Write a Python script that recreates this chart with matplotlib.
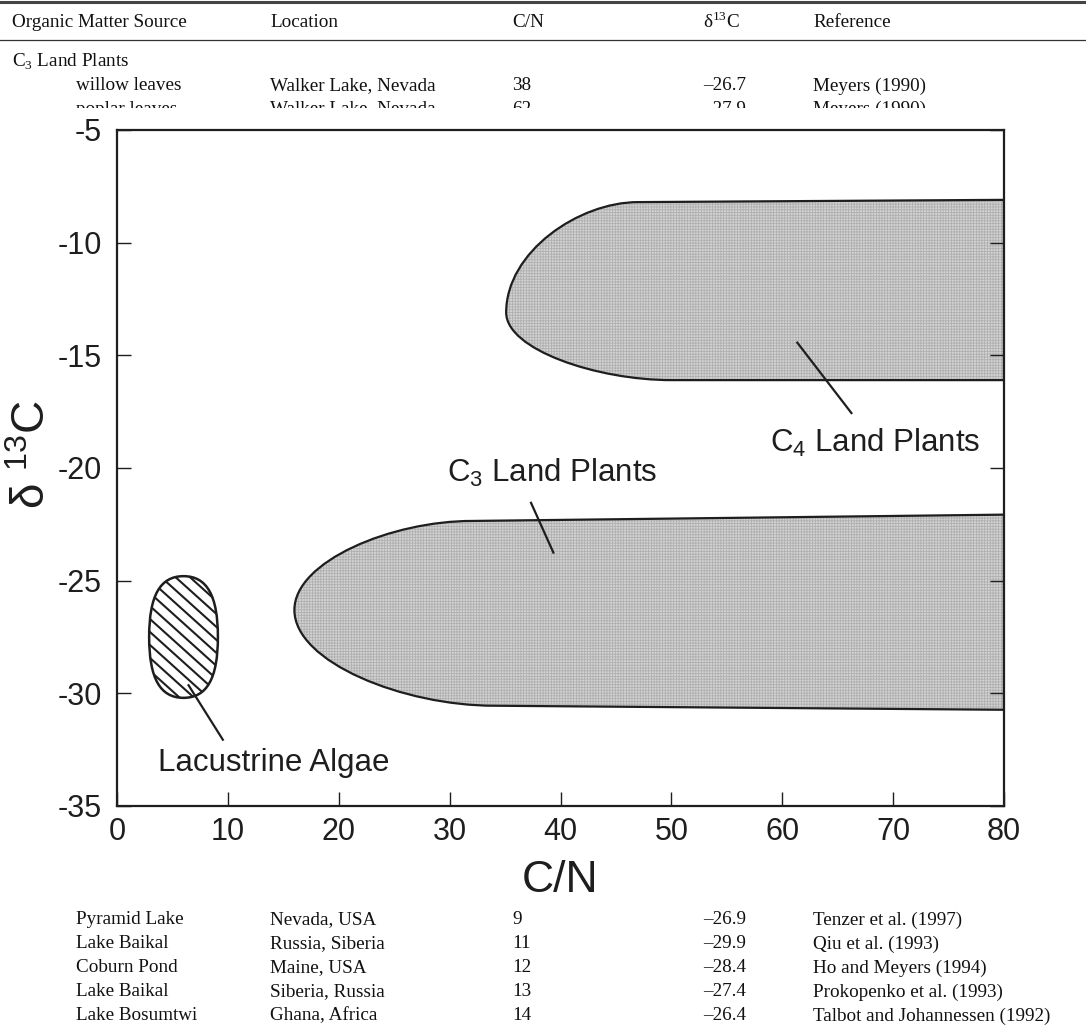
import matplotlib
matplotlib.use("Agg")
import numpy as np
import matplotlib.pyplot as plt
from matplotlib.path import Path
from matplotlib.patches import PathPatch, Rectangle

plt.rcParams['axes.unicode_minus'] = False
SANS = ['Liberation Sans', 'DejaVu Sans']
SERIF = ['Liberation Serif', 'DejaVu Serif']

# ---- table text around the figure ----
table_header = ["Organic Matter Source", "Location", "C/N", "δ$^{\\mathregular{13}}$C", "Reference"]
table_group = "C$_{\\mathregular{3}}$ Land Plants"
table_top_rows = [
    ["willow leaves", "Walker Lake, Nevada", "38", "–26.7", "Meyers (1990)"],
    ["poplar leaves", "Walker Lake, Nevada", "62", "–27.9", "Meyers (1990)"],
]
table_bottom_rows = [
    ["Pyramid Lake", "Nevada, USA", "9", "–26.9", "Tenzer et al. (1997)"],
    ["Lake Baikal", "Russia, Siberia", "11", "–29.9", "Qiu et al. (1993)"],
    ["Coburn Pond", "Maine, USA", "12", "–28.4", "Ho and Meyers (1994)"],
    ["Lake Baikal", "Siberia, Russia", "13", "–27.4", "Prokopenko et al. (1993)"],
    ["Lake Bosumtwi", "Ghana, Africa", "14", "–26.4", "Talbot and Johannessen (1992)"],
]

# ---- source fields in C/N vs d13C space ----
# C4 land plants: left tip, upper / lower bounds
c4_tip = (35.1, -13.1)
c4_top = [(47.0, -8.2), (80.0, -8.1)]
c4_bottom = [(50.0, -16.1), (80.0, -16.1)]
# C3 land plants
c3_tip = (16.0, -26.3)
c3_top = [(32.0, -22.35), (80.0, -22.07)]
c3_bottom = [(34.0, -30.55), (80.0, -30.73)]
# Lacustrine algae: x range and y range
algae_x = (2.9, 9.1)
algae_y = (-30.2, -24.8)

# annotation labels: text, text position, leader line (start, end)
labels = [
    ("C$_{\\mathregular{4}}$ Land Plants", (58.9, -18.9), (61.3, -14.4), (66.3, -17.6)),
    ("C$_{\\mathregular{3}}$ Land Plants", (29.8, -20.2), (37.3, -21.5), (39.4, -23.8)),
    ("Lacustrine Algae", (3.7, -33.1), (6.4, -29.6), (9.6, -32.1)),
]

xticks = [0, 10, 20, 30, 40, 50, 60, 70, 80]
yticks = [-35, -30, -25, -20, -15, -10, -5]

W, H = 1086, 1029
fig = plt.figure(figsize=(W / 100, H / 100), dpi=100)

def fx(px):
    return px / W

def fy(py):
    return 1 - py / H

ink = '#1e1e1e'
# table rules
fig.add_artist(plt.Line2D([0, 1], [fy(2), fy(2)], color='#444', lw=2.2, zorder=0.5))
fig.add_artist(plt.Line2D([0, 1], [fy(40), fy(40)], color='#333', lw=0.9, zorder=0.5))

col_x = [76, 270, 512, 703, 813]
hdr_x = [12, 270, 512, 703, 813]
tkw = dict(family=SERIF, fontsize=13.8, color='#111', va='center', ha='left', zorder=0.5)
for x, t in zip(hdr_x, table_header):
    fig.text(fx(x), fy(22), t, **tkw)
fig.text(fx(12), fy(62), table_group, **tkw)
for i, row in enumerate(table_top_rows):
    for x, t in zip(col_x, row):
        fig.text(fx(x), fy(86 + 23 * i), t, **tkw)
for i, row in enumerate(table_bottom_rows):
    for x, t in zip(col_x, row):
        fig.text(fx(x), fy(920 + 24 * i), t, **tkw)

# white figure panel laid over the table
fig.add_artist(Rectangle((0, fy(893)), 1, fy(108) - fy(893), transform=fig.transFigure,
                         facecolor='white', edgecolor='none', zorder=0.8))

ax = fig.add_axes([fx(117), fy(806), fx(1004) - fx(117), fy(130) - fy(806)], zorder=1)
ax.set_xlim(0, 80)
ax.set_ylim(-35, -5)


def lobe_path(tip, top, bottom):
    """Rounded left end that runs out flat to the right edge."""
    x0, yc = tip
    (xt, yt), (xr, ytr) = top
    (xb, yb), (xrb, ybr) = bottom
    k = 0.55
    verts = [
        (xr, ytr), (xt, yt),
        (x0 + k * (xt - x0), yt), (x0, yc + k * (yt - yc)), (x0, yc),
        (x0, yc + k * (yb - yc)), (x0 + k * (xb - x0), yb), (xb, yb),
        (xrb, ybr), (xr, ytr),
    ]
    codes = [Path.MOVETO, Path.LINETO,
             Path.CURVE4, Path.CURVE4, Path.CURVE4,
             Path.CURVE4, Path.CURVE4, Path.CURVE4,
             Path.LINETO, Path.CLOSEPOLY]
    return Path(verts, codes)


def oval_path(xr, yr, k=0.68):
    x0, x1 = xr
    y0, y1 = yr
    cx, cy = (x0 + x1) / 2, (y0 + y1) / 2
    a, b = (x1 - x0) / 2, (y1 - y0) / 2
    verts = [(cx, y1),
             (cx + k * a, y1), (x1, cy + k * b), (x1, cy),
             (x1, cy - k * b), (cx + k * a, y0), (cx, y0),
             (cx - k * a, y0), (x0, cy - k * b), (x0, cy),
             (x0, cy + k * b), (cx - k * a, y1), (cx, y1),
             (cx, y1)]
    codes = [Path.MOVETO] + [Path.CURVE4] * 12 + [Path.CLOSEPOLY]
    return Path(verts, codes)


for tip, top, bottom in [(c4_tip, c4_top, c4_bottom), (c3_tip, c3_top, c3_bottom)]:
    p = lobe_path(tip, top, bottom)
    ax.add_patch(PathPatch(p, facecolor='#d3d3d3', edgecolor='none', zorder=1))
    with plt.rc_context({'hatch.linewidth': 0.6}):
        ax.add_patch(PathPatch(p, facecolor='none', edgecolor='#b0b0b0', lw=0,
                               hatch='++++++', zorder=1.1))
    ax.add_patch(PathPatch(p, facecolor='none', edgecolor=ink, lw=1.6, zorder=2))

# algae field: white oval with diagonal ruling clipped to its outline
op = oval_path(algae_x, algae_y)
oval = PathPatch(op, facecolor='white', edgecolor='none', zorder=2)
ax.add_patch(oval)
# ruling runs down to the right at about 42 degrees on screen
px_per_x = 887 / 80
px_per_y = 676 / 30
slope = -0.9 * px_per_x / px_per_y
step = 1.3
run = 20
for x_start in np.arange(algae_x[0] - 14, algae_x[1] + 1, step):
    xs = np.array([x_start, x_start + run])
    ys = algae_y[1] + 0.3 + slope * (xs - x_start)
    (ln,) = ax.plot(xs, ys, color=ink, lw=1.5, zorder=2.1)
    ln.set_clip_path(oval)
ax.add_patch(PathPatch(op, facecolor='none', edgecolor=ink, lw=1.8, zorder=2.2))

for text, tpos, p0, p1 in labels:
    ax.plot([p0[0], p1[0]], [p0[1], p1[1]], color=ink, lw=1.6, zorder=3,
            solid_capstyle='butt')
    ax.text(tpos[0], tpos[1], text, family=SANS, fontsize=22.5, color=ink,
            ha='left', va='center', zorder=3)

ax.set_xticks(xticks)
ax.set_yticks(yticks)
ax.tick_params(direction='in', length=10, width=1.0, color=ink, right=True,
               labelsize=22, labelcolor=ink)
ax.tick_params(axis='x', pad=8)
ax.tick_params(axis='y', pad=11)
for lab in ax.get_xticklabels() + ax.get_yticklabels():
    lab.set_family(SANS)
for s in ax.spines.values():
    s.set_linewidth(1.6)
    s.set_color(ink)

ax.set_xlabel("C/N", family=SANS, fontsize=32, color=ink, labelpad=9)
ax.set_ylabel("δ $^{\\mathregular{13}}$C", family=SANS, fontsize=33, color=ink,
              va='center')
ax.yaxis.set_label_coords(-0.095, 0.52)

fig.savefig("out.png", dpi=100)
